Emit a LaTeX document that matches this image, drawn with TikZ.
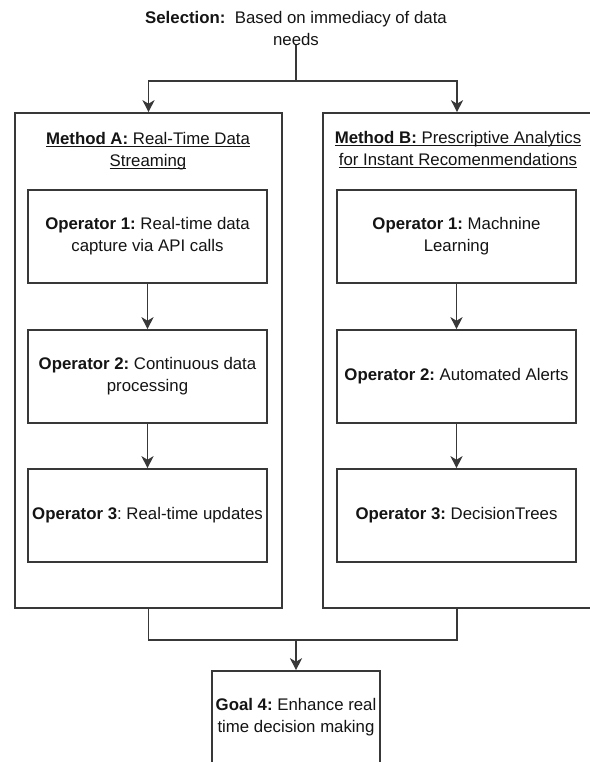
\documentclass[tikz,border=0pt]{standalone}
\usepackage{fontspec}
\setmainfont{Liberation Sans}
\usetikzlibrary{arrows.meta}

% underline at a fixed distance below the baseline
\newcommand\uln[1]{\setbox0\hbox{#1}\rlap{\rule[-2.6bp]{\wd0}{0.9bp}}\box0}

\tikzset{
  line/.style={draw=black!78, line width=1.6bp},
  arr/.style={line, -{Stealth[length=12bp, width=12bp, inset=3.5bp]}},
  txt/.style={align=center, inner sep=0pt, text=black!92,
    font=\fontsize{16.8bp}{22bp}\selectfont\frenchspacing},
  container/.style={line, fill=white, minimum width=267bp, minimum height=495bp, inner sep=0pt},
  opbox/.style={line, txt, fill=white, minimum width=239bp, minimum height=93bp},
}

\begin{document}
\begin{tikzpicture}[x=1bp, y=-1bp]
  \useasboundingbox (0,0) rectangle (590,762);

  % selection rule at the top
  \node[txt, anchor=south] (sel) at (296,45.5)
    {\textbf{Selection:}\ \ Based on immediacy of data\\needs};
  \coordinate (split) at (296,81);

  % the two method containers
  \node[container] (contA) at (148.5,360.5) {};
  \node[container, minimum width=268bp] (contB) at (457,360.5) {};

  \node[txt] (titleA) at (148,151)
    {\uln{\textbf{Method A:} Real-Time Data}\\\uln{Streaming}};
  \node[txt] (titleB) at (458,150)
    {\uln{\textbf{Method B:} Prescriptive Analytics}\\\uln{for Instant Recomenmendations}};

  % operators of method A
  \node[opbox] (a1) at (147.5,236.5) {\textbf{Operator 1:} Real-time data\\capture via API calls};
  \node[opbox] (a2) at (147.5,376.5) {\textbf{Operator 2:} Continuous data\\processing};
  \node[opbox] (a3) at (147.5,515.5) {\textbf{Operator 3}: Real-time updates};

  % operators of method B
  \node[opbox] (b1) at (456.5,236.5) {\textbf{Operator 1:} Machnine\\Learning};
  \node[opbox] (b2) at (456.5,376.5) {\textbf{Operator 2:} Automated Alerts};
  \node[opbox] (b3) at (456.5,515.5) {\textbf{Operator 3:} DecisionTrees};

  % goal
  \node[opbox, minimum width=168bp] (goal) at (296,717.5)
    {\textbf{Goal 4:} Enhance real\\time decision making};
  \coordinate (join) at (296,640);

  % connectors
  \draw[line] (sel.south) -- (split);
  \draw[arr] (split) -| (contA.north);
  \draw[arr] (split) -| (contB.north);

  \draw[arr] (a1) -- (a2);
  \draw[arr] (a2) -- (a3);
  \draw[arr] (b1) -- (b2);
  \draw[arr] (b2) -- (b3);

  \draw[line] (contA.south) |- (join) -| (contB.south);
  \draw[arr] (join) -- (goal.north);
\end{tikzpicture}
\end{document}
